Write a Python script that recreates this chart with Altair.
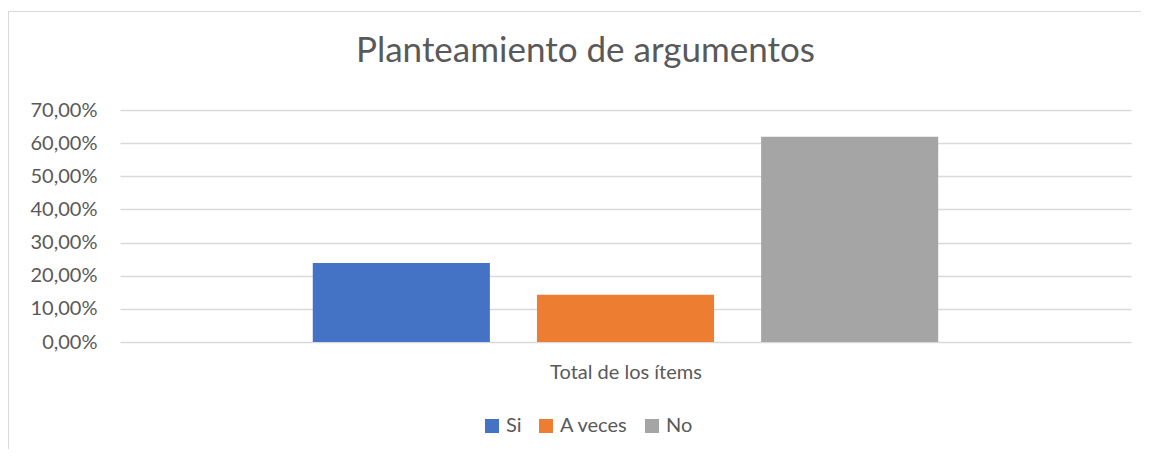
import altair as alt
import pandas as pd

categories = ["Si", "A veces", "No"]
values = [0.2381, 0.1429, 0.6190]
colors = ["#4472C4", "#ED7D31", "#A5A5A5"]
y_ticks = [0, 0.1, 0.2, 0.3, 0.4, 0.5, 0.6, 0.7]

df = pd.DataFrame({"serie": categories, "valor": values})

FONT = "Lato"
TXT = "#595959"

bars = alt.Chart(df).mark_bar().encode(
    x=alt.X(
        "serie:N",
        sort=categories,
        scale=alt.Scale(paddingInner=0.21, paddingOuter=0.86),
        axis=alt.Axis(
            labels=False, ticks=False, domain=False, grid=False,
            title="Total de los ítems", titleFontSize=20, titleFont=FONT,
            titleColor=TXT, titleFontWeight="normal", titlePadding=20,
        ),
    ),
    y=alt.Y(
        "valor:Q",
        scale=alt.Scale(domain=[0, 0.7], nice=False),
        axis=alt.Axis(
            values=y_ticks, title=None, domain=False, ticks=False,
            labelExpr="replace(format(datum.value, '.2%'), '.', ',')",
            labelFontSize=20, labelFont=FONT, labelColor=TXT, labelPadding=23,
            gridColor="#D9D9D9", gridWidth=1.3,
        ),
    ),
    color=alt.Color(
        "serie:N",
        sort=categories,
        scale=alt.Scale(domain=categories, range=colors),
        legend=alt.Legend(
            title=None, orient="none", direction="horizontal",
            legendX=362, legendY=306, padding=0,
            symbolType="square", symbolSize=196, symbolStrokeWidth=0,
            labelFontSize=20, labelFont=FONT, labelColor=TXT,
            labelOffset=4, columnPadding=14,
        ),
    ),
)

border = alt.Chart(pd.DataFrame({"k": [0]})).mark_rect(
    fill=None, stroke="#D9D9D9", strokeWidth=1, clip=False
).encode(
    x=alt.value(-111.5), x2=alt.value(1100),
    y=alt.value(-98.5), y2=alt.value(500),
)

chart = alt.layer(border, bars).properties(
    width=1011,
    height=232,
    background="white",
    title=alt.TitleParams(
        "Planteamiento de argumentos", font=FONT, fontSize=35,
        fontWeight="normal", color=TXT, dx=-40, offset=0, dy=86,
        anchor="middle", frame="group", baseline="alphabetic",
    ),
    autosize=alt.AutoSizeParams(type="none"),
    padding={"left": 112, "top": 102, "right": 10, "bottom": 107},
).configure_view(stroke=None)

chart.save("out.html", embed_options={"renderer": "svg", "actions": False})
